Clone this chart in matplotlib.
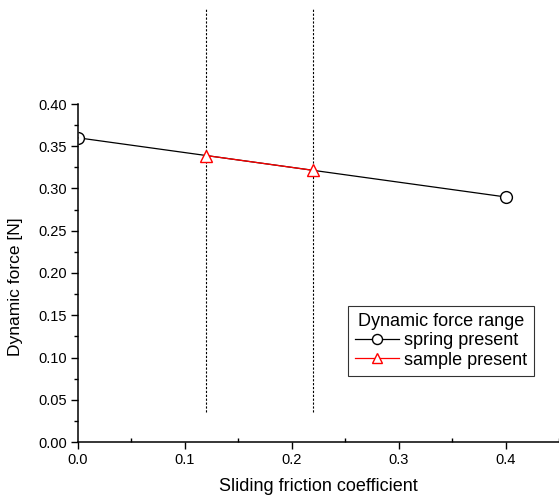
import matplotlib
matplotlib.use("Agg")
import matplotlib.pyplot as plt
from matplotlib.path import Path
from matplotlib.ticker import MultipleLocator, FormatStrFormatter

plt.rcParams['font.family'] = ['Liberation Sans', 'DejaVu Sans']

# data
spring_x = [0.0, 0.4]
spring_y = [0.36, 0.29]
sample_x = [0.12, 0.22]
sample_y = [0.339, 0.3215]
range_lines = [0.12, 0.22]

fig = plt.figure(figsize=(5.59, 4.95), dpi=100)
ax = fig.add_axes([78 / 559, (495 - 442) / 495, (559 - 78) / 559, (442 - 104) / 495])

mk = dict(mfc="white", mew=1.0)
spring, = ax.plot(spring_x, spring_y, color="black", lw=0.9, marker="o", ms=8.5,
                  mec="black", markevery=[1], label="spring present", zorder=3, **mk)
# the point sitting on the y axis is cut in half by the axes in the original
half_circle = Path.arc(-90, 90)
ax.plot(spring_x[:1], spring_y[:1], ls="none", marker=half_circle, ms=8.5,
        mec="black", zorder=3, **mk)
sample, = ax.plot(sample_x, sample_y, color="red", lw=0.9, marker="^", ms=9,
                  mec="red", label="sample present", zorder=4, **mk)

for xv in range_lines:
    ax.plot([xv, xv], [0.0355, 0.514], color="black", lw=0.8,
            ls=(0, (2, 1.5)), clip_on=False, zorder=2)

ax.set_xlim(0, 0.45)
ax.set_ylim(0, 0.40)
ax.xaxis.set_major_locator(MultipleLocator(0.1))
ax.xaxis.set_minor_locator(MultipleLocator(0.05))
ax.yaxis.set_major_locator(MultipleLocator(0.05))
ax.yaxis.set_minor_locator(MultipleLocator(0.025))
ax.xaxis.set_major_formatter(FormatStrFormatter("%.1f"))
ax.yaxis.set_major_formatter(FormatStrFormatter("%.2f"))

for s in ["top", "right"]:
    ax.spines[s].set_visible(False)
ax.spines["left"].set_linewidth(1.1)
ax.spines["bottom"].set_linewidth(1.1)
ax.spines["left"].set_zorder(5)

ax.tick_params(axis="both", which="major", direction="out", length=5, width=1.0,
               labelsize=10.5, pad=3)
ax.tick_params(axis="both", which="minor", direction="out", length=3, width=1.0)
ax.tick_params(axis="x", which="minor", direction="in")

ax.set_xlabel("Sliding friction coefficient", fontsize=13, labelpad=8)
ax.set_ylabel("Dynamic force [N]", fontsize=12.5)
ax.yaxis.set_label_coords(-0.114, 0.46)

leg = ax.legend(handles=[spring, sample], title="Dynamic force range", loc="upper left",
                bbox_to_anchor=((348 - 78) / 481, (442 - 306) / 338),
                fontsize=13, title_fontsize=13, frameon=True, fancybox=False,
                edgecolor="black", handlelength=2.4, handletextpad=0.3,
                borderpad=0.4, labelspacing=0.12, borderaxespad=0, markerscale=0.85)
leg.get_frame().set_linewidth(0.8)

fig.savefig("out.png", dpi=100)
